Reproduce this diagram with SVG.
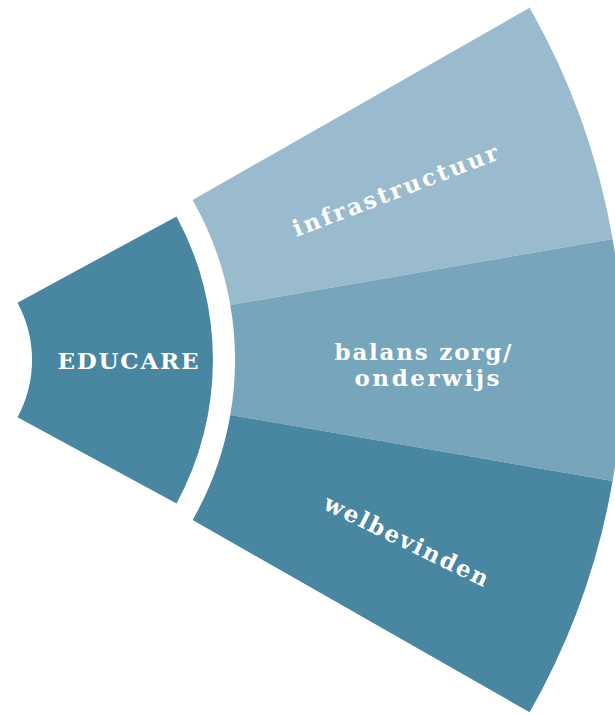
<svg xmlns="http://www.w3.org/2000/svg" width="615" height="714" viewBox="0 0 615 714">
<style>
.lbl{fill:#ffffff;font-family:"DejaVu Serif","Liberation Serif",serif;font-weight:bold;font-size:23px;}
.cap{font-size:23px;}
.dark{fill:#4886a2;}
.mid{fill:#77a5bc;}
.light{fill:#99bbcd;}
</style>
<rect width="615" height="714" fill="#ffffff"/>
<g id="educare">
<path class="dark" d="M 17.5 302.7 L 176.5 216.4 A 301 301 0 0 1 176.5 503.6 L 17.5 417.3 A 120 120 0 0 0 17.5 302.7 Z"/>
<text class="lbl cap" x="128" y="369" text-anchor="middle" textLength="141" lengthAdjust="spacing">EDUCARE</text>
</g>
<g id="infrastructuur">
<path class="light" d="M 192.6 200 L 529.6 7.7 A 711 711 0 0 1 612.6 239 L 230.3 305 A 323 323 0 0 0 192.6 200 Z"/>
<text class="lbl" transform="translate(398,198) rotate(-21)" x="0" y="0" text-anchor="middle" textLength="218" lengthAdjust="spacing">infrastructuur</text>
</g>
<g id="balans">
<path class="mid" d="M 230.3 305 L 612.6 239 A 711 711 0 0 1 612.6 481 L 230.3 415 A 323 323 0 0 0 230.3 305 Z"/>
<text class="lbl" x="423" y="360" text-anchor="middle" textLength="177" lengthAdjust="spacing">balans zorg/</text>
<text class="lbl" x="427" y="386" text-anchor="middle" textLength="145" lengthAdjust="spacing">onderwijs</text>
</g>
<g id="welbevinden">
<path class="dark" d="M 230.3 415 L 612.6 481 A 711 711 0 0 1 529.6 712.3 L 192.6 520 A 323 323 0 0 0 230.3 415 Z"/>
<text class="lbl" transform="translate(403,548) rotate(26)" x="0" y="0" text-anchor="middle" textLength="180" lengthAdjust="spacing">welbevinden</text>
</g>
</svg>
